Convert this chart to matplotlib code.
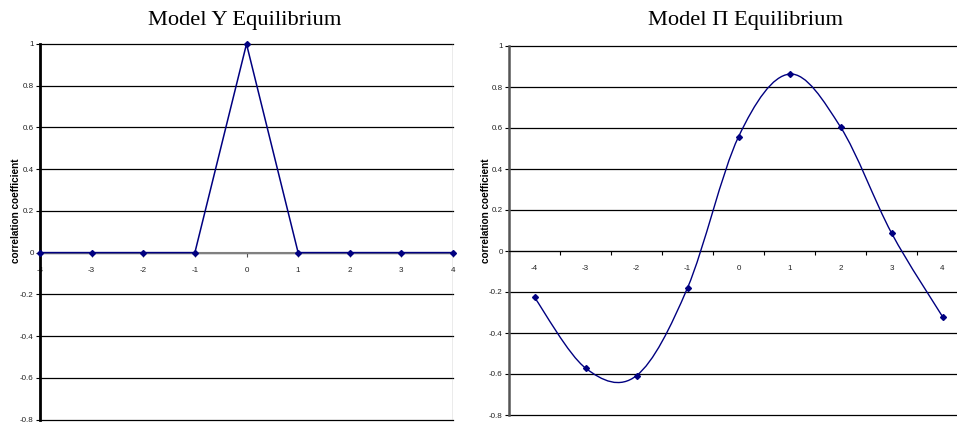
import numpy as np
import matplotlib.pyplot as plt
from matplotlib.path import Path
from matplotlib.patches import PathPatch

lags = [-4, -3, -2, -1, 0, 1, 2, 3, 4]
corr_y = [0, 0, 0, 0, 1, 0, 0, 0, 0]
corr_pi = [-0.226, -0.571, -0.608, -0.180, 0.557, 0.863, 0.605, 0.088, -0.320]
yticks = [-0.8, -0.6, -0.4, -0.2, 0, 0.2, 0.4, 0.6, 0.8, 1]
ytick_labels = ['-0.8', '-0.6', '-0.4', '-0.2', '0', '0.2', '0.4', '0.6', '0.8', '1']

NAVY = '#000080'
W, H = 957, 422


def smooth_path(x, y):
    # Excel-style smoothed line: cubic Bezier with Catmull-Rom control points
    x = np.asarray(x, float)
    y = np.asarray(y, float)
    n = len(x)
    verts = [(x[0], y[0])]
    codes = [Path.MOVETO]
    for i in range(n - 1):
        p0 = (x[max(i - 1, 0)], y[max(i - 1, 0)])
        p1 = (x[i], y[i])
        p2 = (x[i + 1], y[i + 1])
        p3 = (x[min(i + 2, n - 1)], y[min(i + 2, n - 1)])
        c1 = (p1[0] + (p2[0] - p0[0]) / 6, p1[1] + (p2[1] - p0[1]) / 6)
        c2 = (p2[0] - (p3[0] - p1[0]) / 6, p2[1] - (p3[1] - p1[1]) / 6)
        verts += [c1, c2, p2]
        codes += [Path.CURVE4] * 3
    return Path(verts, codes)


def px_axes(fig, left, top, right, bottom):
    return fig.add_axes([left / W, 1 - bottom / H, (right - left) / W, (bottom - top) / H])


def style_axes(ax):
    ax.set_ylim(-0.8, 1)
    ax.set_yticks(yticks)
    ax.set_yticklabels(ytick_labels, fontsize=5.8, family='Liberation Sans', color='#222222')
    ax.tick_params(axis='y', length=3, width=0.8, pad=1.5)
    for v in yticks:
        ax.axhline(v, color='black', lw=0.9, zorder=1, clip_on=False)
    ax.spines['top'].set_visible(False)
    ax.spines['right'].set_visible(False)
    ax.spines['bottom'].set_position(('data', 0))
    ax.set_facecolor('white')


fig = plt.figure(figsize=(W / 100, H / 100), dpi=100)

# left panel
ax1 = px_axes(fig, 40, 44, 453, 419.5)
style_axes(ax1)
ax1.set_xlim(-4, 4)
ax1.set_xticks(lags)
ax1.set_xticklabels([str(v) for v in lags], fontsize=5.8, family='Liberation Sans', color='#222222')
ax1.tick_params(axis='x', direction='out', length=3, width=0.8, pad=7, color='#555555')
ax1.spines['left'].set_linewidth(2)
ax1.spines['left'].set_color('black')
ax1.spines['bottom'].set_color('#808080')
ax1.spines['bottom'].set_linewidth(1.5)
ax1.axvline(4, color='#999999', lw=1, zorder=1)
ax1.plot(lags, corr_y, color=NAVY, lw=1.1, marker='D', ms=3, mfc=NAVY, mec=NAVY,
         zorder=5, clip_on=False)

# right panel
ax2 = px_axes(fig, 509, 46, 968, 415)
style_axes(ax2)
ax2.set_xlim(-4.5, 4.5)
ax2.set_xticks(lags)
ax2.set_xticklabels([str(v) for v in lags], fontsize=5.8, family='Liberation Sans', color='#222222')
ax2.set_xticks(np.arange(-4.5, 4.6, 1), minor=True)
ax2.tick_params(axis='x', which='major', length=0, pad=10)
ax2.tick_params(axis='x', which='minor', direction='out', length=3, width=0.8)
ax2.spines['left'].set_linewidth(1.8)
ax2.spines['left'].set_color('#555555')
ax2.spines['bottom'].set_color('black')
ax2.add_patch(PathPatch(smooth_path(lags, corr_pi), fill=False, edgecolor=NAVY, lw=1.0, zorder=4))
ax2.plot(lags, corr_pi, ls='none', marker='D', ms=3, mfc=NAVY, mec=NAVY, zorder=5)

fig.text(245 / W, 1 - 20 / H, 'Model Y Equilibrium', family='Liberation Serif',
         fontsize=16.2, ha='center', va='center')
fig.text(746 / W, 1 - 20 / H, 'Model \u03a0 Equilibrium', family='Liberation Serif',
         fontsize=16.2, ha='center', va='center')

for xpos in (16, 486):
    fig.text(xpos / W, 1 - 211 / H, 'correlation coefficient', rotation=90,
             family='Liberation Sans', fontweight='bold', fontsize=7.2,
             ha='center', va='center')

fig.savefig('out.png', dpi=100, facecolor='white')
